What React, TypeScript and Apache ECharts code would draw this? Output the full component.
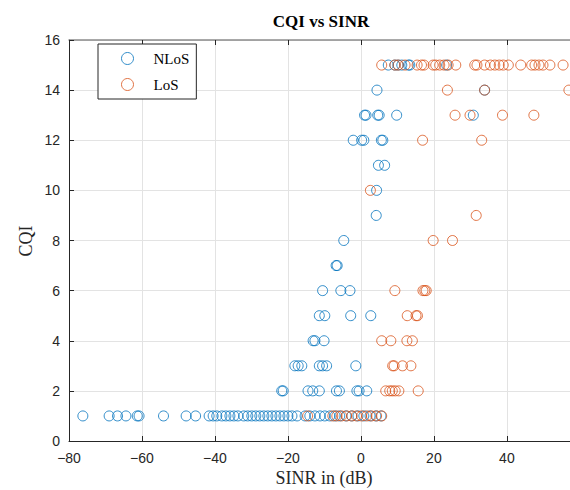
import React, { useEffect, useRef } from "react";
import * as echarts from "echarts";

const xTicks = [-80, -60, -40, -20, 0, 20, 40];
const yTicks = [0, 2, 4, 6, 8, 10, 12, 14, 16];

// NLoS: [CQI, SINR values in dB]
const nlosRows: [number, number[]][] = [
  [1, [-76.2, -69.0, -66.7, -64.4, -61.3, -60.8, -54.1, -47.9, -45.3, -41.6, -40.5, -39.5, -38.1, -37.0, -35.9, -34.8, -33.7, -32.1, -31.0, -29.9, -28.8, -27.7, -26.6, -25.5, -24.4, -23.3, -22.2, -21.1, -20.0, -18.9, -17.5, -15.3, -14.0, -12.6, -11.2, -9.9, -8.5, -7.1, -5.8, -4.1, -2.5, -0.8, 0.8, 2.5, 4.1, 5.5]],
  [2, [-21.7, -21.3, -14.5, -13.2, -11.4, -6.7, -5.9, -1.1, -0.5, 1.6]],
  [3, [-18.1, -17.2, -16.2, -11.4, -10.5, -9.4, -1.4]],
  [4, [-13.1, -12.6, -10.1]],
  [5, [-11.4, -9.9, -2.8, 2.7]],
  [6, [-10.5, -5.5, -3.0]],
  [7, [-6.8, -6.5]],
  [8, [-4.7]],
  [9, [4.2]],
  [10, [4.3]],
  [11, [4.8, 6.5]],
  [12, [-2.1, 0.2, 0.8, 5.6, 6.0]],
  [13, [1.0, 1.4, 4.6, 5.0, 9.8, 30.8]],
  [14, [4.4, 33.9]],
  [15, [7.5, 9.3, 10.2, 11.2, 13.0, 13.4, 23.5]],
];

// LoS: [CQI, SINR values in dB]
const losRows: [number, number[]][] = [
  [1, [-14.6, -7.7, -6.6, -5.3, -3.9, -2.5, -1.2, 0.2, 1.6, 2.9, 4.3, 5.7]],
  [2, [6.8, 7.9, 8.6, 9.4, 10.4, 15.7]],
  [3, [8.7, 9.1, 11.4, 13.7]],
  [4, [5.7, 8.2, 12.6, 14.1]],
  [5, [12.7, 15.1, 15.5]],
  [6, [9.3, 17.0, 17.5, 17.9]],
  [8, [19.8, 25.1]],
  [9, [31.6]],
  [10, [2.6]],
  [12, [16.9, 33.1]],
  [13, [25.8, 29.9, 38.8, 47.4]],
  [14, [23.7, 33.9, 57.0]],
  [15, [5.7, 9.3, 10.2, 12.1, 15.4, 16.6, 17.3, 19.8, 20.5, 21.6, 22.8, 23.9, 26.0, 31.2, 31.8, 33.9, 35.5, 36.7, 37.9, 39.0, 40.4, 43.8, 46.8, 47.7, 48.8, 49.9, 51.8, 55.4]],
];

const toPoints = (rows: [number, number[]][]) =>
  rows.flatMap(([cqi, xs]) => xs.map((x) => [x, cqi]));

const nlos = toPoints(nlosRows);
const los = toPoints(losRows);

const BLUE = "#0072BD";
const ORANGE = "#D95319";
const AXIS = "#262626";
const SERIF = "'Liberation Serif', 'Times New Roman', serif";
const SANS = "'Liberation Sans', Arial, sans-serif";

export default function App() {
  const ref = useRef<HTMLDivElement>(null);
  useEffect(() => {
    if (!ref.current) return;
    const chart = echarts.init(ref.current, undefined, { renderer: "svg" });
    const fmtX = (v: number) =>
      xTicks.includes(v) ? (v < 0 ? "\u2212" + Math.abs(v) : String(v)) : "";
    chart.setOption({
      animation: false,
      backgroundColor: "#fff",
      title: {
        text: "CQI vs SINR",
        left: 316,
        top: 8,
        textAlign: "center",
        textStyle: { fontFamily: SERIF, fontWeight: "bold", fontSize: 17, color: "#000" },
      },
      legend: {
        left: 98,
        top: 44,
        orient: "vertical",
        itemWidth: 12,
        itemHeight: 12,
        itemGap: 11,
        padding: [7, 7, 7, 23],
        borderColor: AXIS,
        borderWidth: 1,
        backgroundColor: "#fff",
        icon: "circle",
        itemStyle: { borderWidth: 1 },
        textStyle: { fontFamily: SERIF, fontSize: 15, color: "#000", padding: [0, 0, 0, 15] },
        data: ["NLoS", "LoS"],
      },
      grid: { left: 69, right: 0, top: 40, bottom: 49, containLabel: false },
      xAxis: [
        {
          type: "value",
          min: -80,
          max: 57.3,
          interval: 20,
          position: "bottom",
          axisLine: { show: true, onZero: false, lineStyle: { color: AXIS, width: 1 } },
          axisTick: { show: true, inside: true, length: 5, lineStyle: { color: AXIS } },
          axisLabel: {
            formatter: fmtX,
            fontFamily: SANS,
            fontSize: 14,
            color: AXIS,
            margin: 10,
            showMaxLabel: false,
          },
          splitLine: { show: true, lineStyle: { color: "#e3e3e3", width: 1 } },
        },
        {
          type: "value",
          min: -80,
          max: 57.3,
          interval: 20,
          position: "top",
          axisLine: { show: true, onZero: false, lineStyle: { color: "#8c8c8c", width: 1.5 } },
          axisTick: { show: true, inside: true, length: 5, lineStyle: { color: AXIS } },
          axisLabel: { show: false },
          splitLine: { show: false },
        },
      ],
      yAxis: {
        type: "value",
        min: 0,
        max: 16,
        interval: 2,
        position: "left",
        axisLine: { show: true, onZero: false, lineStyle: { color: AXIS, width: 1 } },
        axisTick: { show: true, inside: true, length: 5, lineStyle: { color: AXIS } },
        axisLabel: {
          formatter: (v: number) => (yTicks.includes(v) ? String(v) : ""),
          fontFamily: SANS,
          fontSize: 14,
          color: AXIS,
          margin: 9,
        },
        splitLine: { show: true, lineStyle: { color: "#e3e3e3", width: 1 } },
      },
      graphic: [
        {
          type: "text",
          x: 324,
          y: 478,
          style: {
            text: "SINR in (dB)",
            fontFamily: SERIF,
            fontSize: 18,
            fill: "#262626",
            align: "center",
            verticalAlign: "middle",
          },
        },
        {
          type: "text",
          x: 26,
          y: 241,
          rotation: Math.PI / 2,
          style: {
            text: "CQI",
            fontFamily: SERIF,
            fontSize: 18,
            fill: "#262626",
            align: "center",
            verticalAlign: "middle",
          },
        },
      ],
      series: [
        {
          name: "NLoS",
          type: "scatter",
          data: nlos,
          symbol: "circle",
          symbolSize: 10,
          itemStyle: { color: "rgba(0,0,0,0)", borderColor: BLUE, borderWidth: 1, opacity: 0.8 },
          emphasis: { disabled: true },
        },
        {
          name: "LoS",
          type: "scatter",
          data: los,
          symbol: "circle",
          symbolSize: 10,
          itemStyle: { color: "rgba(0,0,0,0)", borderColor: ORANGE, borderWidth: 1, opacity: 0.8 },
          emphasis: { disabled: true },
        },
      ],
    });
    return () => chart.dispose();
  }, []);
  return (
    <div
      ref={ref}
      style={{ position: "fixed", left: 0, top: 0, width: 570, height: 490 }}
    />
  );
}
